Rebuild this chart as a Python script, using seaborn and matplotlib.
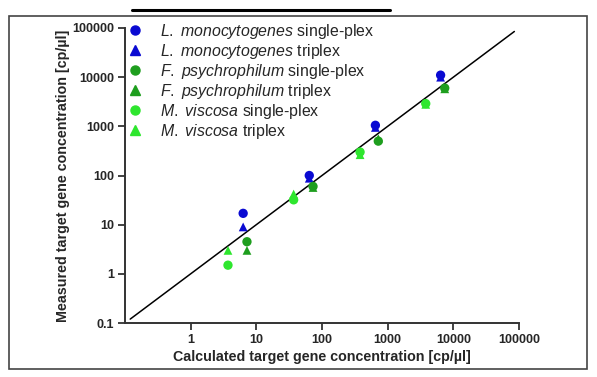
import matplotlib
matplotlib.use("Agg")
import matplotlib.pyplot as plt
import numpy as np
import pandas as pd
import seaborn as sns
from matplotlib.lines import Line2D
from matplotlib.patches import Rectangle

sns.set_theme(style="ticks")
plt.rcParams["font.family"] = ["Liberation Sans", "DejaVu Sans"]
plt.rcParams["mathtext.fontset"] = "custom"
plt.rcParams["mathtext.it"] = "Liberation Sans:italic"
plt.rcParams["mathtext.rm"] = "Liberation Sans"

# calculated concentrations (x) per target
calc_listeria = [6.3, 64, 650, 6400]
calc_flavo = [7.2, 73, 720, 7400]
calc_moritella = [3.7, 37, 380, 3800]

# measured concentrations (y)
meas_listeria_single = [17, 100, 1050, 11000]
meas_listeria_triplex = [9, 88, 950, 10000]
meas_flavo_single = [4.5, 60, 500, 6000]
meas_flavo_triplex = [3, 57, 560, 5800]
meas_moritella_single = [1.5, 32, 300, 2900]
meas_moritella_triplex = [3, 42, 265, 2800]

series_labels = [
    r"$\it{L.\ monocytogenes}$ single-plex",
    r"$\it{L.\ monocytogenes}$ triplex",
    r"$\it{F.\ psychrophilum}$ single-plex",
    r"$\it{F.\ psychrophilum}$ triplex",
    r"$\it{M.\ viscosa}$ single-plex",
    r"$\it{M.\ viscosa}$ triplex",
]
series_x = [calc_listeria, calc_listeria, calc_flavo, calc_flavo, calc_moritella, calc_moritella]
series_y = [meas_listeria_single, meas_listeria_triplex, meas_flavo_single,
            meas_flavo_triplex, meas_moritella_single, meas_moritella_triplex]
series_colors = ["#0a0ad2", "#0a0ad2", "#1e9e1e", "#1e9e1e", "#2ee62e", "#2ee62e"]
series_markers = ["o", "^", "o", "^", "o", "^"]

x_ticks = [1, 10, 100, 1000, 10000, 100000]
y_ticks = [0.1, 1, 10, 100, 1000, 10000, 100000]
identity_range = [0.12, 85000]

rows = []
for label, xs, ys in zip(series_labels, series_x, series_y):
    for x, y in zip(xs, ys):
        rows.append({"series": label, "calc": x, "meas": y})
df = pd.DataFrame(rows)

fig = plt.figure(figsize=(5.97, 3.77), dpi=100)
ax = fig.add_axes([125 / 597, 1 - 323 / 377, 394 / 597, 295 / 377])

sns.lineplot(x=identity_range, y=identity_range, color="black", linewidth=1.1, ax=ax)

handles = []
for i, label in enumerate(series_labels):
    sub = df[df["series"] == label]
    sns.scatterplot(data=sub, x="calc", y="meas", color=series_colors[i],
                    marker=series_markers[i], s=45 if series_markers[i] == "o" else 40,
                    edgecolor="none", ax=ax, zorder=4 - (i % 2), legend=False)
    handles.append(Line2D([], [], linestyle="none", marker=series_markers[i],
                          color=series_colors[i], markersize=6.5))

ax.set_xscale("log")
ax.set_yscale("log")
ax.set_xlim(0.1, 100000)
ax.set_ylim(0.1, 100000)
ax.set_xticks(x_ticks)
ax.set_xticklabels([f"{t:g}" for t in x_ticks])
ax.set_yticks(y_ticks)
ax.set_yticklabels([f"{t:g}" for t in y_ticks])
ax.minorticks_off()
ax.tick_params(axis="both", labelsize=9, width=1.3, length=5, color="#333333", pad=3)
for lab in ax.get_xticklabels() + ax.get_yticklabels():
    lab.set_fontweight("bold")

ax.set_xlabel("Calculated target gene concentration [cp/µl]", fontsize=10.3,
              fontweight="bold", labelpad=3)
ax.set_ylabel("Measured target gene concentration [cp/µl]", fontsize=10.3,
              fontweight="bold", labelpad=1)
sns.despine(ax=ax)
for side in ["left", "bottom"]:
    ax.spines[side].set_linewidth(1.4)
    ax.spines[side].set_color("#333333")

fig.legend(handles, series_labels, loc="upper left", bbox_to_anchor=(128 / 597, 1 - 22 / 377),
           frameon=False, fontsize=11.4, handlelength=0.9, handletextpad=1.1,
           labelspacing=0.06, borderpad=0, borderaxespad=0)

# outer frame and top bar
fig.patches.append(Rectangle((9 / 597, 1 - 369 / 377), 578 / 597, 353 / 377,
                             transform=fig.transFigure, fill=False,
                             edgecolor="#444444", linewidth=1.2))
fig.add_artist(Line2D([132 / 597, 390 / 597], [1 - 10 / 377, 1 - 10 / 377],
                      transform=fig.transFigure, color="black", linewidth=2.2))

fig.savefig("out.png", dpi=100)
